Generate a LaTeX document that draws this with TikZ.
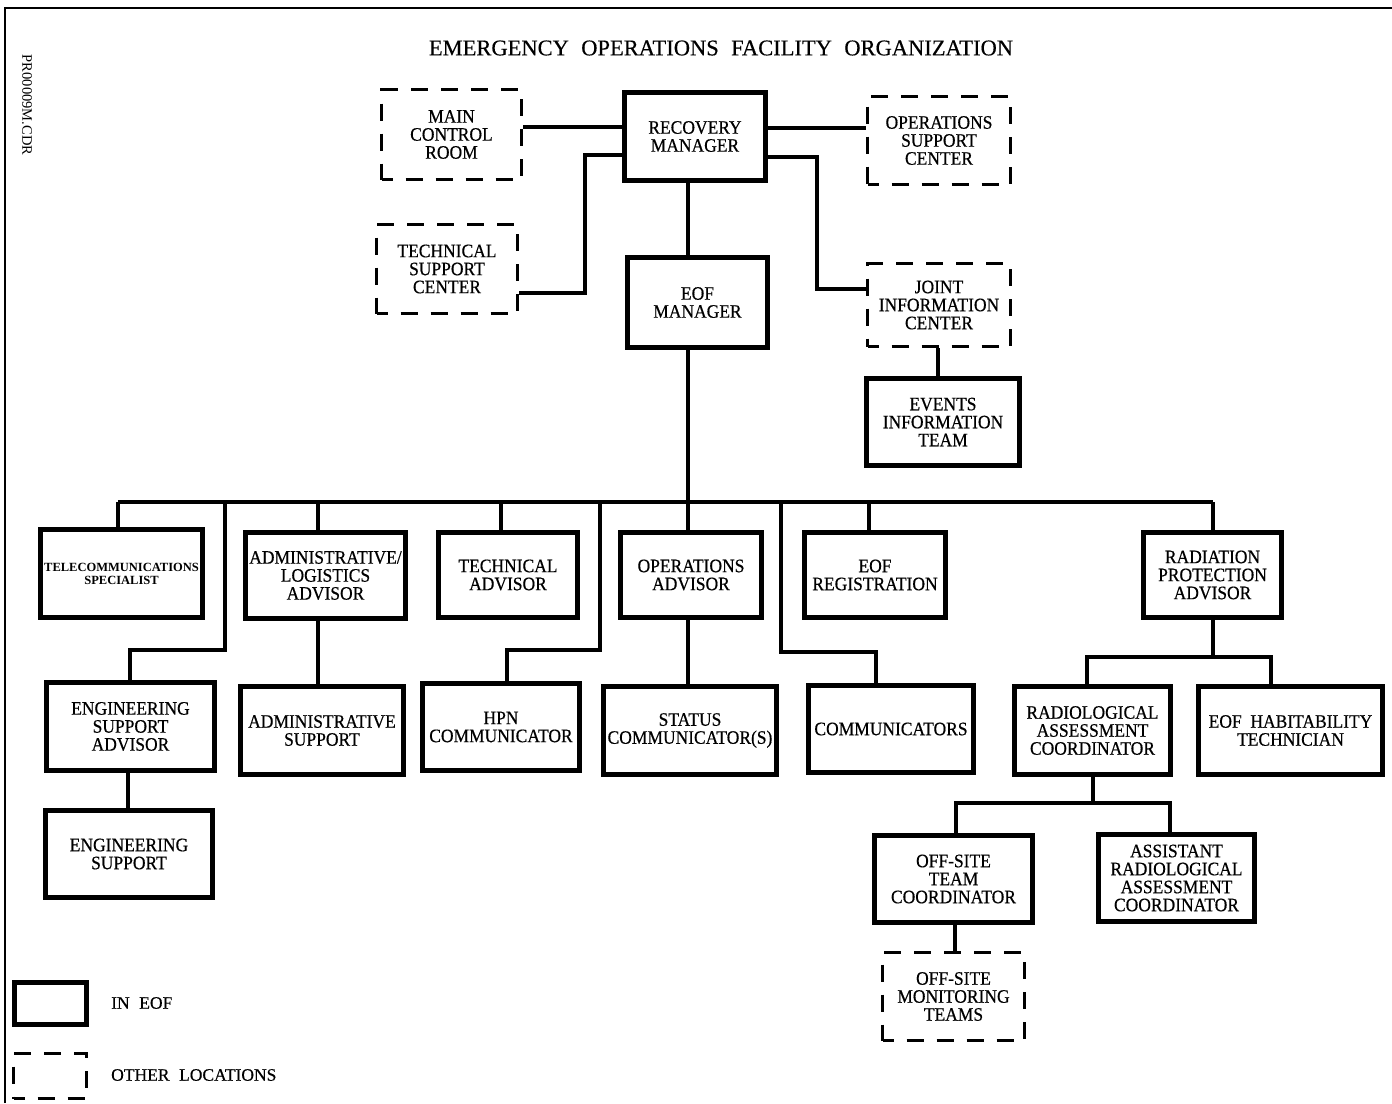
\documentclass[tikz,border=0pt]{standalone}
\usepackage{fontspec}
\setmainfont{Liberation Serif}
\newfontfamily\widefont{Liberation Serif}[WordSpace=2.2, FakeBold=0.4]
\newfontfamily\boxfam{Liberation Serif}[FakeStretch=0.92, FakeBold=0.5]
\newcommand\boxfont{\boxfam\fontsize{19}{18}\selectfont}
\newcommand\BX[7]{\node[#1, minimum width=#5pt, minimum height=#6pt] (#2) at (#3,#4) {#7};}
\tikzset{
  solidbox/.style={draw, line width=5pt, fill=white, inner sep=0pt, align=center, font=\boxfont},
  dashbox/.style={draw, line width=3pt, dash pattern=on 17pt off 13pt, dash phase=6pt, fill=white, inner sep=0pt, align=center, font=\boxfont},
  smallbox/.style={solidbox, font=\fontsize{12.5}{13}\selectfont\bfseries},
  conn/.style={line width=4.5pt, line join=miter},
  frameline/.style={line width=1.6pt},
  plaintext/.style={inner sep=0pt, font=\widefont\fontsize{17.5}{18}\selectfont},
}
\begin{document}
\begin{tikzpicture}[x=1pt, y=-1pt]
\useasboundingbox (0,0) rectangle (1392,1103);
% frame
\coordinate (fbl) at (5,1103);
\coordinate (ftl) at (5,8);
\coordinate (ftr) at (1392,8);
\draw[frameline] (fbl) -- (ftl) -- (ftr);
\node[rotate=-90, inner sep=0pt, font=\fontsize{14.5}{15}\selectfont] (fname) at (27,105) {PR00009M.CDR};
\node[inner sep=0pt, font=\widefont\fontsize{22.5}{24}\selectfont] (title) at (721,48) {EMERGENCY OPERATIONS FACILITY ORGANIZATION};

% top part
\BX{solidbox}{rm}{695}{136.5}{141}{88.5}{RECOVERY\\MANAGER}
\BX{solidbox}{eofm}{697.5}{302.5}{140.5}{90.5}{EOF\\MANAGER}
\BX{dashbox}{mcr}{451.5}{134.5}{140}{90}{MAIN\\CONTROL\\ROOM}
\BX{dashbox}{tsc}{447}{269}{141}{89}{TECHNICAL\\SUPPORT\\CENTER}
\BX{dashbox}{osc}{939}{140.5}{143}{88}{OPERATIONS\\SUPPORT\\CENTER}
\BX{dashbox}{jic}{939}{305}{143}{83}{JOINT\\INFORMATION\\CENTER}
\BX{solidbox}{eit}{943}{422}{153.5}{87.5}{EVENTS\\INFORMATION\\TEAM}

% row 1
\BX{smallbox}{tel}{121.5}{573.5}{162.5}{88.5}{TELECOMMUNICATIONS\\SPECIALIST}
\BX{solidbox}{ala}{325.5}{575.5}{160.5}{86.5}{ADMINISTRATIVE/\\LOGISTICS\\ADVISOR}
\BX{solidbox}{ta}{508}{575}{139.5}{85.5}{TECHNICAL\\ADVISOR}
\BX{solidbox}{oa}{691}{575}{141.5}{85.5}{OPERATIONS\\ADVISOR}
\BX{solidbox}{reg}{875}{575}{141.5}{85.5}{EOF\\REGISTRATION}
\BX{solidbox}{rpa}{1212.5}{575}{138.5}{85.5}{RADIATION\\PROTECTION\\ADVISOR}

% row 2
\BX{solidbox}{esa}{130.5}{726.5}{168.5}{88.5}{ENGINEERING\\SUPPORT\\ADVISOR}
\BX{solidbox}{as}{322}{730.5}{163.5}{88.5}{ADMINISTRATIVE\\SUPPORT}
\BX{solidbox}{hpn}{501}{727}{157.5}{87.5}{HPN\\COMMUNICATOR}
\BX{solidbox}{sc}{690}{730.5}{173.5}{88.5}{STATUS\\COMMUNICATOR(S)}
\BX{solidbox}{com}{891}{729}{165.5}{87.5}{COMMUNICATORS}
\BX{solidbox}{rac}{1092.5}{730.5}{156.5}{88.5}{RADIOLOGICAL\\ASSESSMENT\\COORDINATOR}
\BX{solidbox}{eht}{1290.5}{730.5}{184.5}{88.5}{EOF~~HABITABILITY\\TECHNICIAN}

% row 3
\BX{solidbox}{es}{129}{854}{167.5}{87.5}{ENGINEERING\\SUPPORT}
\BX{solidbox}{ostc}{953.5}{879}{158.5}{87.5}{OFF-SITE\\TEAM\\COORDINATOR}
\BX{solidbox}{arac}{1176.5}{878}{156.5}{87.5}{ASSISTANT\\RADIOLOGICAL\\ASSESSMENT\\COORDINATOR}
\BX{dashbox}{osmt}{953.5}{996.5}{142}{88}{OFF-SITE\\MONITORING\\TEAMS}

% legend
\BX{solidbox}{lgs}{50.5}{1003.5}{72.5}{42.5}{}
\BX{dashbox}{lgd}{50}{1076}{73}{45}{}
\node[plaintext, anchor=west] (lgst) at (111,1003) {IN EOF};
\node[plaintext, anchor=west] (lgdt) at (111,1075) {OTHER LOCATIONS};

% connectors top
\draw[conn] (mcr.east |- 0,127) -- (rm.west |- 0,127);
\draw[conn] (tsc.east |- 0,293) -- (585,293) -- (585,155) -- (rm.west |- 0,155);
\draw[conn] (rm.east |- 0,128) -- (osc.west |- 0,128);
\draw[conn] (rm.east |- 0,157) -- (817,157) -- (817,289) -- (jic.west |- 0,289);
\draw[conn] (rm.south -| 688,0) -- (eofm.north -| 688,0);
\draw[conn] (jic.south -| 938,0) -- (eit.north -| 938,0);

% bus
\coordinate (bus) at (688,502);
\coordinate (busl) at (118,502);
\coordinate (busr) at (1213,502);
\draw[conn] (eofm.south -| bus) -- (bus);
\draw[conn] (busl) -- (busr);
\draw[conn] (busl) -- (tel.north -| busl);
\draw[conn] (318,502) -- (ala.north -| 318,0);
\draw[conn] (501,502) -- (ta.north -| 501,0);
\draw[conn] (bus) -- (oa.north -| bus);
\draw[conn] (869,502) -- (reg.north -| 869,0);
\draw[conn] (busr) -- (rpa.north -| busr);
\draw[conn] (225,502) -- (225,650) -- (130,650) -- (esa.north -| 130,0);
\draw[conn] (600,502) -- (600,650) -- (507,650) -- (hpn.north -| 507,0);
\draw[conn] (781,502) -- (781,652) -- (876,652) -- (com.north -| 876,0);

% lower connectors
\draw[conn] (ala.south -| 318,0) -- (as.north -| 318,0);
\draw[conn] (oa.south -| 688,0) -- (sc.north -| 688,0);
\draw[conn] (esa.south -| 128,0) -- (es.north -| 128,0);
\draw[conn] (rpa.south -| 1213,0) -- (1213,657);
\draw[conn] (rac.north -| 1087,0) -- (1087,657) -- (1271,657) -- (eht.north -| 1271,0);
\draw[conn] (rac.south -| 1093,0) -- (1093,803);
\draw[conn] (ostc.north -| 956,0) -- (956,803) -- (1170,803) -- (arac.north -| 1170,0);
\draw[conn] (ostc.south -| 955,0) -- (osmt.north -| 955,0);
\end{tikzpicture}
\end{document}
